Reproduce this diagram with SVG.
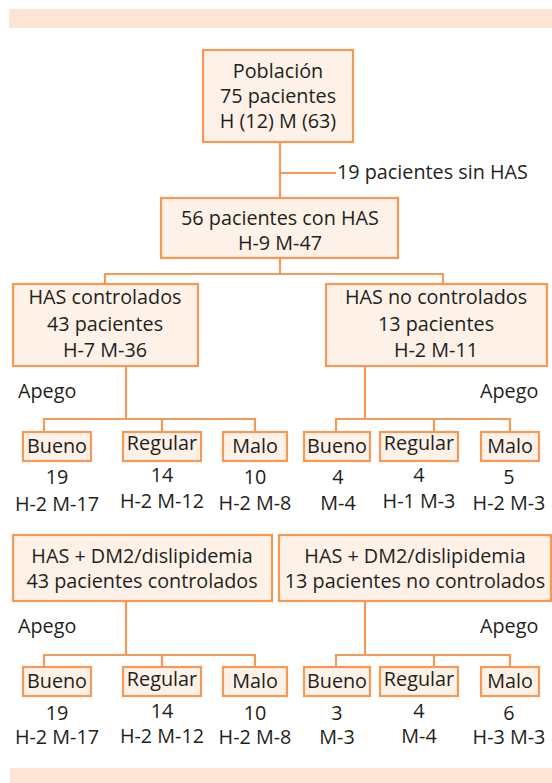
<svg xmlns="http://www.w3.org/2000/svg" width="552" height="783" viewBox="0 0 552 783">
<style>
.band{fill:#fde5d5}
.box{fill:#fdf1e8;stroke:#f59a56;stroke-width:2.2}
.ln{fill:none;stroke:#f59a56;stroke-width:2.2}
text{font-family:"Open Sans","DejaVu Sans",sans-serif;font-size:19.8px;fill:#231f20;text-anchor:middle}
.l{text-anchor:start}
</style>
<rect class="band" x="9" y="9" width="543" height="19"/>
<rect class="band" x="10" y="768" width="542" height="15"/>
<g id="connectors">
<path class="ln" d="M280,142V198M280,173H336"/>
<path class="ln" d="M280,258V274M105,284V274H443V284"/>
<path class="ln" d="M126,366V419M44,432V419H255V432M162,419V432"/>
<path class="ln" d="M365,366V419M336,432V419H510V432M434,419V432"/>
<path class="ln" d="M126,601V655M44,667V655H255V667M162,655V667"/>
<path class="ln" d="M365,601V655M336,667V655H510V667M434,655V667"/>
</g>
<g id="poblacion"><rect class="box" x="203" y="50" width="150" height="92"/>
<text x="278" y="78">Población</text><text x="278" y="103">75 pacientes</text><text x="278" y="128">H (12) M (63)</text></g>
<g id="sinhas"><text class="l" x="337" y="179">19 pacientes sin HAS</text></g>
<g id="conhas"><rect class="box" x="161" y="198" width="237" height="60"/>
<text x="280" y="225">56 pacientes con HAS</text><text x="280" y="250">H-9 M-47</text></g>
<g id="controlados"><rect class="box" x="13" y="284" width="185" height="82"/>
<text x="105" y="304">HAS controlados</text><text x="105" y="331">43 pacientes</text><text x="105" y="357">H-7 M-36</text></g>
<g id="nocontrolados"><rect class="box" x="326" y="284" width="221" height="82"/>
<text x="436" y="304">HAS no controlados</text><text x="436" y="331">13 pacientes</text><text x="436" y="357">H-2 M-11</text></g>
<text class="l" x="18" y="398">Apego</text>
<text class="l" x="480" y="398">Apego</text>
<g id="c-bueno"><rect class="box" x="23" y="432" width="68" height="29"/><text x="57" y="453">Bueno</text>
<text x="57" y="484">19</text><text x="57" y="511">H-2 M-17</text></g>
<g id="c-regular"><rect class="box" x="123" y="432" width="78" height="29"/><text x="162" y="450">Regular</text>
<text x="162" y="482">14</text><text x="162" y="508">H-2 M-12</text></g>
<g id="c-malo"><rect class="box" x="223" y="432" width="64" height="29"/><text x="255" y="453">Malo</text>
<text x="255" y="484">10</text><text x="255" y="510">H-2 M-8</text></g>
<g id="n-bueno"><rect class="box" x="304" y="432" width="66" height="29"/><text x="337" y="453">Bueno</text>
<text x="338" y="484">4</text><text x="338" y="510">M-4</text></g>
<g id="n-regular"><rect class="box" x="380" y="432" width="78" height="29"/><text x="419" y="450">Regular</text>
<text x="419" y="482">4</text><text x="419" y="508">H-1 M-3</text></g>
<g id="n-malo"><rect class="box" x="481" y="432" width="58" height="29"/><text x="510" y="453">Malo</text>
<text x="509" y="484">5</text><text x="509" y="510">H-2 M-3</text></g>
<g id="dm-controlados"><rect class="box" x="13" y="535" width="259" height="66"/>
<text x="142" y="563">HAS + DM2/dislipidemia</text><text x="142" y="588">43 pacientes controlados</text></g>
<g id="dm-nocontrolados"><rect class="box" x="279" y="535" width="272" height="66"/>
<text x="415" y="563">HAS + DM2/dislipidemia</text><text x="415" y="588">13 pacientes no controlados</text></g>
<text class="l" x="18" y="633">Apego</text>
<text class="l" x="480" y="633">Apego</text>
<g id="dc-bueno"><rect class="box" x="23" y="667" width="68" height="29"/><text x="57" y="688">Bueno</text>
<text x="57" y="720">19</text><text x="57" y="744">H-2 M-17</text></g>
<g id="dc-regular"><rect class="box" x="123" y="667" width="78" height="29"/><text x="162" y="686">Regular</text>
<text x="162" y="718">14</text><text x="162" y="743">H-2 M-12</text></g>
<g id="dc-malo"><rect class="box" x="223" y="667" width="64" height="29"/><text x="255" y="688">Malo</text>
<text x="255" y="720">10</text><text x="255" y="744">H-2 M-8</text></g>
<g id="dn-bueno"><rect class="box" x="304" y="667" width="66" height="29"/><text x="337" y="688">Bueno</text>
<text x="337" y="720">3</text><text x="337" y="744">M-3</text></g>
<g id="dn-regular"><rect class="box" x="380" y="667" width="78" height="29"/><text x="419" y="686">Regular</text>
<text x="419" y="718">4</text><text x="419" y="743">M-4</text></g>
<g id="dn-malo"><rect class="box" x="481" y="667" width="58" height="29"/><text x="510" y="688">Malo</text>
<text x="509" y="720">6</text><text x="509" y="744">H-3 M-3</text></g>
</svg>
